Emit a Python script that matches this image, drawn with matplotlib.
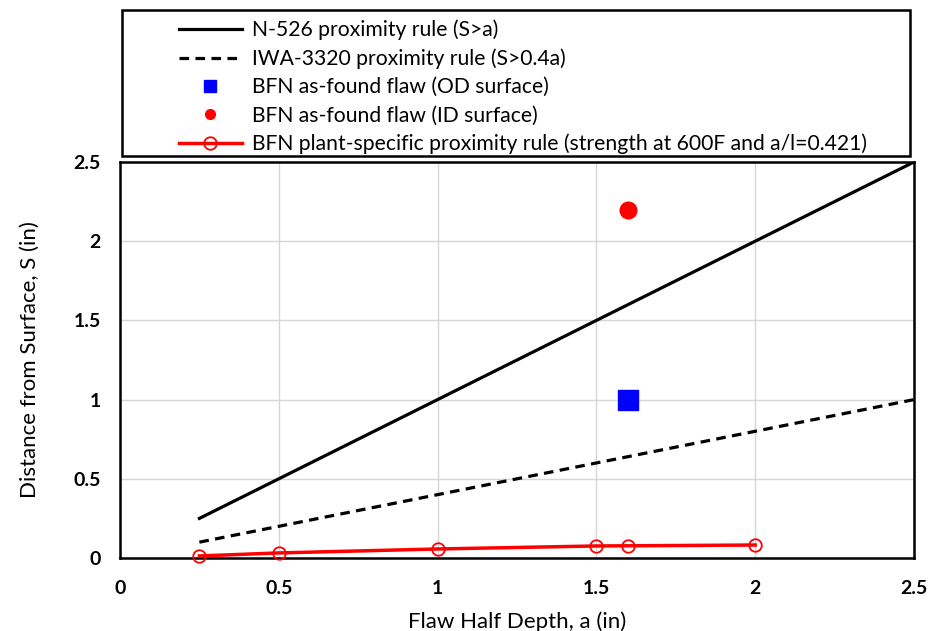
import matplotlib
matplotlib.use("Agg")
import matplotlib.pyplot as plt
from matplotlib.lines import Line2D
from matplotlib.patches import Rectangle

# rule lines
rule_a = [0.25, 2.5]
n526_s = [0.25, 2.5]
iwa_s = [0.1, 1.0]

# as-found flaws
od_a, od_s = [1.6], [1.0]
id_a, id_s = [1.6], [2.2]

# plant-specific rule
bfn_a = [0.25, 0.5, 1.0, 1.5, 1.6, 2.0]
bfn_s = [0.013, 0.032, 0.057, 0.076, 0.077, 0.082]

xticks = [0, 0.5, 1, 1.5, 2, 2.5]
tick_labels = ["0", "0.5", "1", "1.5", "2", "2.5"]

plt.rcParams['font.family'] = ['Lato', 'DejaVu Sans']

fig = plt.figure(figsize=(9.38, 6.31), dpi=100)
ax = fig.add_axes([120/938, 1 - 558/631, (914-120)/938, (558-162)/631])

ax.plot(rule_a, n526_s, color='black', lw=2.3, zorder=3)
ax.plot(rule_a, iwa_s, color='black', lw=2.3, ls=(0, (3, 2)), zorder=3)
ax.plot(od_a, od_s, ls='none', marker='s', color='blue', ms=14, zorder=4)
ax.plot(id_a, id_s, ls='none', marker='o', color='red', ms=12, zorder=4)
ax.plot(bfn_a, bfn_s, color='red', lw=2.5, marker='o', ms=9, mfc='none',
        mec='red', mew=1.3, zorder=4, clip_on=False)

ax.set_xlim(0, 2.5)
ax.set_ylim(0, 2.5)
ax.set_xticks(xticks)
ax.set_xticklabels(tick_labels)
ax.set_yticks(xticks)
ax.set_yticklabels(tick_labels)
ax.tick_params(length=0, labelsize=14)
ax.tick_params(axis='x', pad=16)
ax.tick_params(axis='y', pad=14)
for lab in ax.get_xticklabels() + ax.get_yticklabels():
    lab.set_fontweight('bold')
ax.grid(True, color='#d6d6d6', lw=1)
ax.set_axisbelow(True)
for sp in ax.spines.values():
    sp.set_linewidth(1.8)
    sp.set_color('black')

ax.set_xlabel('Flaw Half Depth, a (in)', fontsize=16, labelpad=10)
ax.set_ylabel('Distance from Surface, S (in)', fontsize=16, labelpad=24)

# legend in its own box above the plot
fig.patches.append(Rectangle((122/938, 1 - 156/631), (910-122)/938, (156-10)/631,
                             transform=fig.transFigure, fill=False,
                             edgecolor='black', lw=1.8))
handles = [
    Line2D([], [], color='black', lw=2.3),
    Line2D([], [], color='black', lw=2.3, ls=(0, (3, 2))),
    Line2D([], [], ls='none', marker='s', color='blue', ms=8),
    Line2D([], [], ls='none', marker='o', color='red', ms=7),
    Line2D([], [], color='red', lw=2.5, marker='o', ms=9, mfc='none', mec='red', mew=1.3),
]
labels = [
    'N-526 proximity rule (S>a)',
    'IWA-3320 proximity rule (S>0.4a)',
    'BFN as-found flaw (OD surface)',
    'BFN as-found flaw (ID surface)',
    'BFN plant-specific proximity rule (strength at 600F and a/l=0.421)',
]
fig.legend(handles, labels, loc='upper left', bbox_to_anchor=(168/938, 1 - 9/631),
           frameon=False, borderpad=0, handlelength=3.0, handletextpad=0.5,
           labelspacing=0.39, prop={'size': 15.2})

fig.savefig('out.png', dpi=100)
